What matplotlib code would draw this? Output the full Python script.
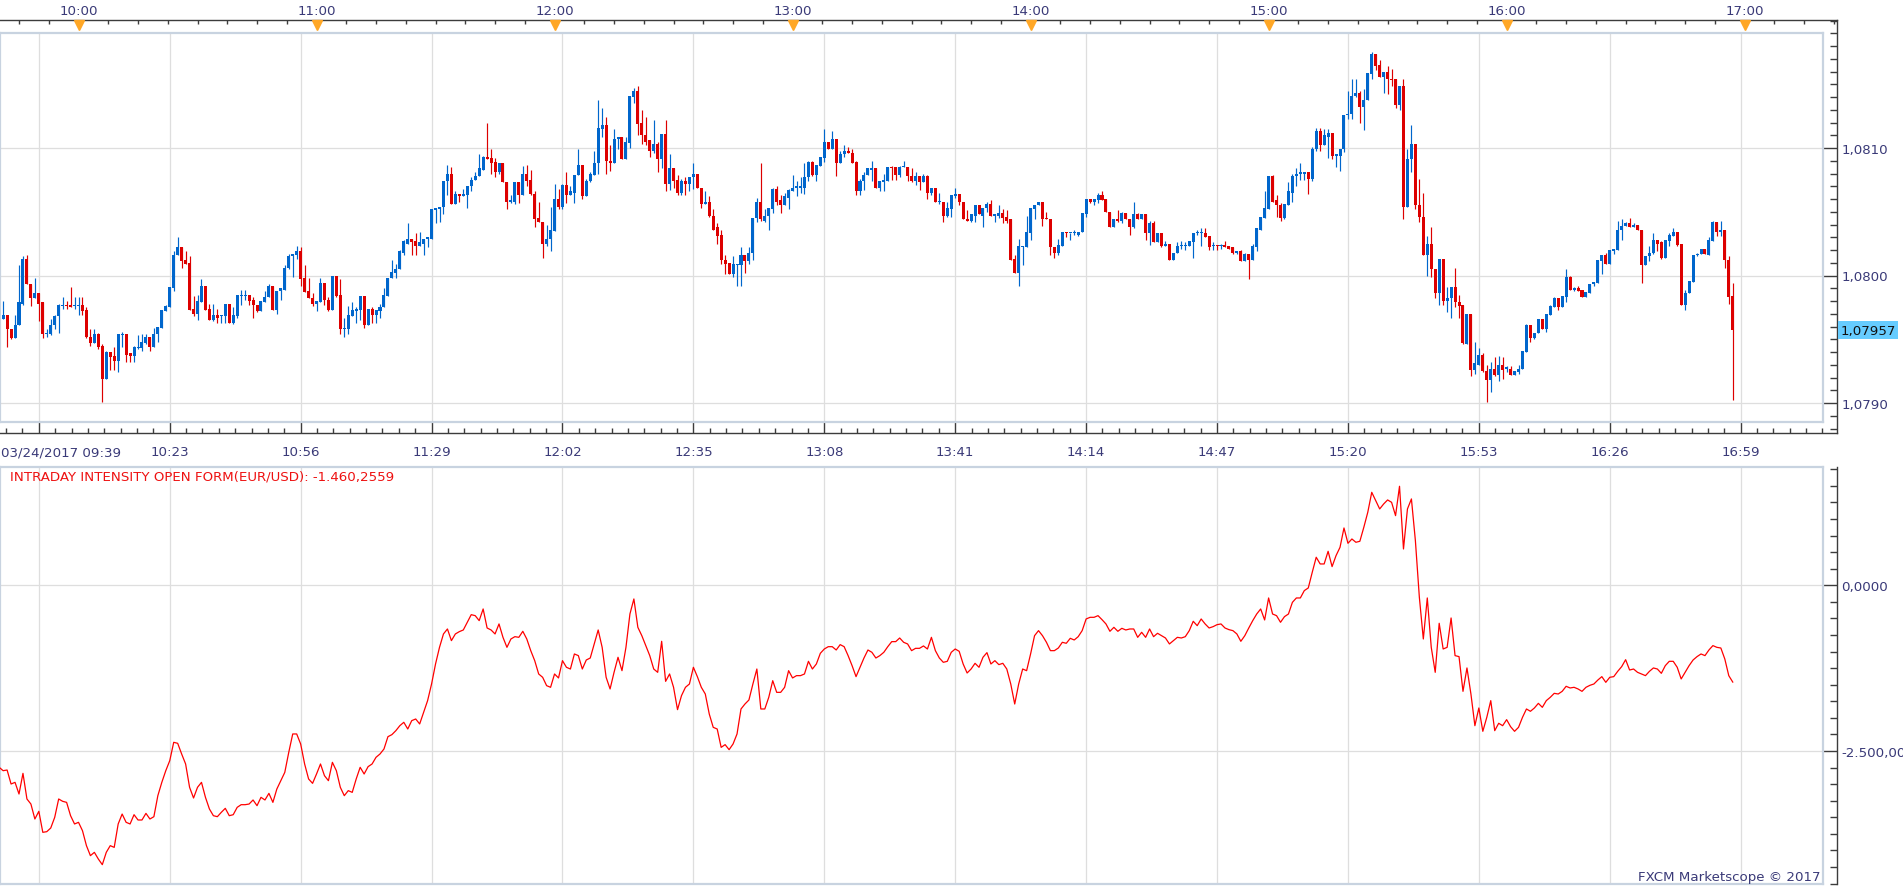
import numpy as np
import matplotlib
matplotlib.use('Agg')
import matplotlib.pyplot as plt
import matplotlib.transforms as mtransforms
from matplotlib.ticker import FixedLocator, MultipleLocator, FuncFormatter, NullFormatter

# EUR/USD 1-minute candles, 03/24/2017, values in points (0.00001) above BASE
BASE = 1.07900
PT = 0.00001
first_bar = 2          # minutes after 09:39 of the first candle

open_pts = [
    66, 69, 58, 51, 61, 78, 113, 93, 82, 86, 79, 54, 54, 61, 68, 76, 77, 77, 76, 76,
    77, 73, 52, 47, 54, 45, 19, 40, 37, 33, 53, 54, 39, 37, 43, 43, 47, 52, 44, 54,
    59, 72, 75, 90, 116, 122, 112, 110, 74, 70, 79, 92, 74, 65, 69, 68, 68, 78, 63, 68,
    84, 84, 85, 81, 77, 72, 79, 83, 92, 73, 88, 89, 106, 115, 116, 119, 98, 88, 82, 78,
    79, 94, 81, 73, 100, 85, 58, 58, 68, 72, 73, 84, 61, 74, 69, 72, 75, 84, 98, 102,
    105, 118, 125, 129, 127, 123, 125, 129, 129, 151, 152, 154, 174, 180, 156, 164, 162, 163, 170, 175,
    178, 183, 193, 192, 189, 181, 188, 173, 158, 158, 173, 163, 180, 175, 164, 145, 142, 125, 129, 135,
    160, 154, 171, 163, 165, 179, 187, 162, 174, 179, 188, 215, 218, 190, 188, 207, 209, 191, 204, 240,
    245, 220, 210, 206, 198, 203, 191, 211, 172, 184, 175, 165, 174, 172, 177, 180, 169, 156, 158, 147,
    138, 132, 112, 110, 101, 108, 108, 116, 111, 118, 145, 158, 143, 147, 152, 168, 159, 155, 161, 166,
    169, 169, 169, 177, 189, 179, 186, 192, 205, 199, 207, 188, 195, 198, 196, 189, 166, 174, 179, 183,
    184, 169, 173, 174, 185, 185, 179, 185, 185, 178, 174, 178, 173, 178, 165, 169, 158, 158, 147, 152,
    162, 164, 158, 144, 143, 147, 155, 147, 153, 156, 147, 147, 149, 146, 144, 113, 102, 122, 122, 133,
    152, 155, 158, 145, 144, 122, 118, 123, 134, 133, 133, 132, 134, 148, 160, 158, 159, 163, 160, 150,
    138, 144, 143, 149, 144, 138, 148, 144, 148, 133, 141, 126, 133, 123, 125, 112, 118, 123, 123, 123,
    126, 133, 133, 133, 131, 123, 124, 123, 124, 123, 122, 118, 119, 111, 117, 112, 122, 136, 145, 152,
    178, 159, 155, 145, 155, 165, 178, 180, 180, 181, 176, 199, 213, 202, 209, 212, 194, 194, 199, 226,
    227, 241, 243, 232, 238, 258, 274, 265, 256, 260, 254, 254, 234, 249, 154, 191, 203, 155, 146, 116,
    125, 105, 86, 113, 80, 82, 91, 79, 77, 46, 70, 26, 30, 38, 25, 18, 27, 22, 30, 27,
    27, 22, 24, 27, 40, 61, 51, 55, 66, 58, 69, 75, 82, 75, 83, 99, 89, 90, 89, 83,
    86, 93, 94, 111, 116, 109, 119, 120, 136, 139, 141, 138, 140, 136, 108, 115, 118, 128, 126, 114,
    127, 131, 134, 125, 77, 86, 95, 116, 117, 121, 116, 127, 142, 134, 136, 112, 84,
]
high_pts = [
    80, 69, 58, 69, 108, 115, 116, 93, 98, 86, 79, 58, 66, 69, 78, 83, 80, 91, 83, 83,
    83, 75, 58, 58, 55, 46, 41, 40, 44, 54, 56, 54, 39, 45, 53, 54, 54, 52, 59, 60,
    73, 77, 91, 119, 130, 122, 119, 115, 84, 85, 97, 92, 78, 78, 74, 69, 78, 78, 75, 85,
    89, 89, 85, 83, 77, 80, 88, 93, 92, 88, 90, 108, 117, 117, 123, 122, 108, 98, 86, 80,
    98, 94, 83, 100, 100, 97, 67, 76, 79, 75, 84, 84, 74, 75, 73, 78, 90, 98, 112, 109,
    120, 128, 141, 129, 133, 134, 129, 130, 152, 153, 154, 174, 187, 185, 166, 164, 168, 170, 177, 181,
    195, 194, 220, 199, 192, 188, 188, 173, 163, 173, 173, 186, 187, 183, 166, 158, 142, 140, 154, 172,
    168, 172, 181, 170, 179, 199, 187, 176, 181, 198, 238, 231, 224, 202, 215, 209, 209, 209, 241, 247,
    249, 230, 224, 206, 222, 205, 211, 222, 195, 184, 179, 176, 177, 177, 188, 180, 169, 166, 162, 152,
    141, 136, 116, 110, 115, 109, 122, 116, 122, 145, 161, 188, 152, 153, 169, 170, 163, 165, 168, 179,
    174, 177, 188, 190, 190, 187, 193, 215, 205, 213, 207, 198, 202, 201, 199, 190, 176, 181, 184, 190,
    184, 174, 180, 185, 186, 185, 186, 190, 185, 184, 181, 178, 180, 179, 169, 169, 165, 158, 158, 163,
    169, 164, 158, 151, 148, 155, 155, 153, 158, 159, 148, 155, 152, 151, 144, 116, 129, 123, 147, 153,
    155, 158, 158, 150, 144, 122, 129, 134, 134, 133, 136, 134, 149, 160, 160, 160, 165, 166, 160, 150,
    144, 151, 150, 149, 144, 158, 149, 148, 148, 143, 143, 133, 133, 127, 125, 118, 126, 127, 126, 127,
    133, 136, 137, 137, 131, 126, 124, 125, 127, 123, 122, 119, 120, 118, 117, 125, 137, 146, 166, 178,
    179, 163, 157, 156, 173, 180, 184, 188, 181, 181, 201, 216, 216, 215, 215, 212, 195, 199, 226, 245,
    254, 254, 245, 246, 259, 275, 274, 269, 260, 264, 262, 254, 249, 254, 199, 218, 203, 176, 165, 131,
    138, 105, 113, 113, 91, 91, 106, 85, 77, 70, 70, 48, 43, 39, 30, 32, 36, 37, 36, 29,
    29, 25, 30, 41, 62, 61, 55, 66, 66, 70, 77, 83, 82, 84, 105, 100, 91, 92, 89, 87,
    93, 95, 112, 116, 118, 120, 121, 143, 144, 142, 145, 141, 140, 136, 115, 123, 133, 128, 127, 128,
    133, 137, 134, 125, 89, 96, 116, 118, 121, 121, 130, 143, 142, 143, 136, 115, 94,
]
low_pts = [
    66, 44, 50, 51, 61, 77, 93, 76, 82, 64, 51, 52, 53, 58, 55, 74, 74, 75, 74, 69,
    69, 51, 45, 47, 42, 1, 19, 26, 26, 24, 44, 32, 32, 32, 42, 41, 46, 41, 44, 48,
    59, 72, 75, 88, 116, 106, 109, 73, 68, 65, 79, 73, 65, 64, 63, 63, 63, 63, 62, 67,
    77, 81, 77, 67, 71, 72, 79, 83, 73, 70, 81, 89, 105, 99, 113, 92, 87, 82, 76, 72,
    79, 77, 72, 73, 83, 54, 52, 54, 68, 63, 65, 59, 61, 63, 63, 67, 75, 84, 98, 98,
    105, 116, 125, 116, 116, 123, 116, 122, 129, 141, 142, 148, 163, 156, 156, 158, 162, 153, 166, 175,
    178, 183, 191, 180, 177, 180, 173, 152, 157, 156, 157, 163, 170, 163, 138, 142, 114, 123, 119, 135,
    152, 152, 157, 163, 157, 179, 160, 162, 173, 179, 180, 209, 180, 182, 188, 199, 191, 191, 200, 235,
    210, 203, 202, 193, 196, 181, 184, 166, 167, 169, 163, 163, 163, 166, 168, 169, 153, 156, 146, 136,
    125, 109, 101, 101, 99, 92, 92, 102, 109, 112, 142, 143, 142, 136, 149, 155, 149, 155, 152, 166,
    162, 165, 164, 174, 178, 174, 186, 189, 199, 199, 178, 188, 193, 196, 188, 163, 163, 167, 179, 174,
    169, 166, 166, 174, 175, 175, 177, 185, 174, 173, 171, 167, 173, 160, 163, 158, 156, 142, 146, 146,
    161, 155, 144, 143, 142, 142, 148, 138, 150, 147, 142, 145, 141, 141, 112, 102, 92, 108, 122, 128,
    144, 155, 139, 144, 116, 114, 116, 123, 130, 128, 132, 131, 134, 146, 157, 155, 157, 159, 150, 138,
    138, 142, 141, 144, 132, 137, 144, 144, 128, 124, 126, 126, 122, 123, 112, 112, 118, 121, 120, 123,
    114, 132, 123, 130, 120, 120, 120, 121, 122, 121, 117, 117, 111, 111, 97, 112, 119, 136, 145, 152,
    158, 146, 143, 144, 155, 158, 170, 175, 175, 164, 174, 198, 198, 202, 192, 191, 185, 182, 197, 223,
    223, 240, 220, 214, 238, 254, 261, 256, 243, 242, 249, 231, 230, 144, 154, 181, 152, 142, 116, 100,
    99, 82, 77, 77, 71, 67, 75, 67, 46, 46, 21, 23, 30, 24, 1, 9, 21, 17, 19, 24,
    22, 22, 23, 27, 40, 48, 50, 55, 58, 56, 69, 75, 73, 75, 79, 89, 88, 88, 83, 83,
    86, 92, 94, 101, 109, 109, 117, 120, 128, 139, 138, 138, 136, 94, 108, 111, 117, 119, 113, 114,
    123, 131, 123, 77, 73, 86, 95, 115, 117, 117, 116, 127, 131, 131, 106, 78, 2,
]
close_pts = [
    69, 58, 51, 61, 79, 113, 93, 82, 86, 78, 54, 55, 61, 68, 77, 77, 76, 75, 76, 77,
    72, 52, 47, 54, 44, 19, 40, 36, 33, 54, 54, 38, 37, 44, 44, 48, 52, 44, 54, 60,
    73, 76, 91, 116, 122, 111, 109, 73, 70, 80, 92, 73, 65, 69, 67, 68, 78, 63, 69, 85,
    85, 85, 80, 77, 72, 80, 83, 92, 73, 88, 90, 106, 115, 117, 119, 97, 87, 82, 78, 80,
    94, 81, 73, 100, 84, 58, 58, 69, 73, 74, 84, 61, 74, 69, 73, 75, 85, 98, 103, 105,
    119, 127, 129, 126, 123, 126, 129, 130, 152, 153, 154, 174, 180, 156, 164, 162, 164, 170, 175, 178,
    184, 193, 191, 188, 181, 188, 173, 158, 159, 173, 163, 180, 174, 164, 144, 142, 125, 129, 136, 160,
    154, 171, 163, 166, 179, 187, 162, 174, 180, 188, 216, 218, 190, 188, 207, 209, 191, 205, 241, 245,
    219, 210, 205, 198, 203, 191, 211, 172, 184, 174, 165, 174, 172, 177, 180, 169, 156, 158, 147, 136,
    131, 112, 109, 101, 109, 109, 116, 111, 118, 145, 158, 144, 147, 153, 168, 158, 155, 162, 167, 169,
    170, 170, 177, 189, 179, 187, 193, 205, 199, 207, 188, 195, 198, 196, 188, 166, 174, 179, 184, 184,
    169, 174, 175, 185, 184, 179, 185, 186, 178, 174, 178, 173, 178, 165, 169, 158, 158, 147, 153, 163,
    164, 158, 144, 143, 148, 155, 148, 153, 156, 147, 148, 149, 145, 143, 112, 102, 123, 123, 134, 153,
    155, 158, 144, 144, 122, 118, 124, 134, 133, 133, 133, 134, 149, 160, 158, 160, 163, 159, 150, 138,
    144, 143, 149, 144, 138, 148, 144, 148, 133, 141, 126, 133, 123, 125, 112, 118, 123, 124, 124, 127,
    133, 133, 133, 130, 122, 124, 123, 124, 122, 121, 118, 119, 111, 117, 112, 123, 137, 146, 153, 178,
    158, 155, 145, 156, 166, 178, 180, 181, 181, 176, 199, 213, 202, 210, 212, 194, 195, 199, 226, 227,
    241, 243, 232, 238, 259, 274, 264, 256, 260, 254, 253, 234, 249, 154, 191, 203, 155, 146, 116, 125,
    105, 86, 113, 80, 82, 91, 79, 76, 47, 70, 26, 31, 38, 25, 18, 27, 22, 30, 26, 28,
    22, 25, 27, 41, 61, 51, 55, 66, 58, 70, 76, 82, 75, 84, 99, 89, 90, 88, 83, 87,
    93, 95, 112, 116, 109, 120, 121, 136, 139, 141, 138, 140, 136, 108, 115, 118, 128, 125, 114, 128,
    132, 134, 124, 77, 86, 96, 116, 117, 121, 117, 128, 142, 134, 136, 112, 83, 57,
]

# Intraday Intensity (open form), one value per minute starting at 09:40
ii_first = 1
ii_values = [
    -2746, -2797, -2787, -2998, -2973, -3149, -2837, -3224, -3300, -3526,
    -3410, -3727, -3717, -3662, -3501, -3224, -3259, -3275, -3476, -3601,
    -3576, -3702, -3928, -4079, -4029, -4130, -4215, -4029, -3928, -3954,
    -3601, -3451, -3576, -3601, -3461, -3541, -3541, -3441, -3526, -3491,
    -3174, -2973, -2797, -2646, -2369, -2384, -2545, -2696, -3048, -3209,
    -3048, -2973, -3199, -3375, -3476, -3491, -3425, -3365, -3476, -3461,
    -3350, -3310, -3310, -3300, -3239, -3325, -3199, -3239, -3139, -3275,
    -3073, -2948, -2822, -2520, -2243, -2243, -2394, -2696, -2922, -2988,
    -2847, -2696, -2872, -2948, -2671, -2797, -3048, -3174, -3098, -3124,
    -2922, -2746, -2847, -2736, -2696, -2595, -2545, -2470, -2284, -2253,
    -2193, -2118, -2067, -2168, -2042, -2017, -2092, -1916, -1740, -1489,
    -1187, -936, -734, -659, -835, -734, -699, -674, -558, -443,
    -458, -533, -357, -644, -674, -734, -583, -785, -936, -810,
    -775, -785, -694, -810, -986, -1137, -1338, -1388, -1514, -1539,
    -1338, -1398, -1137, -1237, -1263, -1036, -1061, -1263, -1127, -1097,
    -885, -674, -936, -1388, -1564, -1313, -1086, -1288, -936, -433,
    -206, -634, -760, -910, -1061, -1263, -1313, -845, -1449, -1338,
    -1539, -1876, -1665, -1539, -1489, -1237, -1378, -1539, -1640, -1942,
    -2143, -2168, -2445, -2404, -2480, -2394, -2243, -1866, -1791, -1730,
    -1489, -1263, -1866, -1866, -1690, -1439, -1615, -1615, -1539, -1288,
    -1398, -1363, -1363, -1338, -1147, -1263, -1187, -1026, -961, -926,
    -926, -976, -895, -926, -1061, -1212, -1378, -1237, -1097, -976,
    -1011, -1097, -1061, -1011, -926, -850, -850, -795, -860, -885,
    -986, -951, -951, -915, -961, -785, -986, -1097, -1162, -1147,
    -1011, -961, -996, -1187, -1323, -1263, -1177, -1237, -1086, -1016,
    -1187, -1137, -1197, -1177, -1263, -1489, -1791, -1489, -1263, -1288,
    -1036, -760, -684, -760, -860, -986, -986, -946, -860, -875,
    -800, -825, -775, -684, -508, -483, -483, -458, -518, -583,
    -694, -634, -694, -649, -674, -659, -659, -785, -709, -785,
    -659, -775, -724, -760, -795, -885, -835, -785, -795, -775,
    -684, -543, -609, -508, -583, -644, -624, -594, -583, -644,
    -669, -684, -734, -845, -760, -644, -533, -433, -357, -523,
    -191, -433, -458, -558, -473, -433, -257, -191, -191, -80,
    -40, 196, 423, 322, 322, 513, 282, 448, 573, 865,
    634, 699, 649, 664, 875, 1102, 1403, 1278, 1152, 1227,
    1288, 1252, 1051, 1494, 548, 1152, 1303, 674, -181, -810,
    -191, -936, -1313, -573, -961, -936, -493, -1061, -1076, -1600,
    -1247, -1640, -2118, -1851, -2203, -1992, -1740, -2193, -2082, -2118,
    -2027, -2133, -2203, -2143, -1992, -1866, -1901, -1851, -1781, -1841,
    -1740, -1690, -1630, -1640, -1600, -1524, -1549, -1539, -1564, -1600,
    -1539, -1509, -1489, -1429, -1378, -1464, -1388, -1378, -1298, -1227,
    -1122, -1278, -1263, -1313, -1338, -1363, -1298, -1247, -1263, -1328,
    -1212, -1147, -1147, -1237, -1413, -1313, -1212, -1127, -1076, -1036,
    -1061, -976, -910, -936, -946, -1112, -1363, -1460,
]

grid_minutes = [11 + 33 * k for k in range(14)]
grid_labels = ['03/24/2017 09:39', '10:23', '10:56', '11:29', '12:02', '12:35', '13:08',
               '13:41', '14:14', '14:47', '15:20', '15:53', '16:26', '16:59']
hour_minutes = [21 + 60 * k for k in range(8)]
hour_labels = ['10:00', '11:00', '12:00', '13:00', '14:00', '15:00', '16:00', '17:00']
last_price = 1.07957
ii_title = 'INTRADAY INTENSITY OPEN FORM(EUR/USD): -1.460,2559'

# ---------------------------------------------------------------------------
W, H = 1903, 887
PX_MIN = 3.967
PX_ZERO = -4.8
BLUE = '#0066cc'
RED = '#dd0000'
TXT = '#3a3a78'
AXC = '#3c3c3c'
FRAME = '#c8d3e0'
GRID = '#dedede'
FS = 9.6
plt.rcParams['font.family'] = ['DejaVu Sans']


def px_box(x0, y0, x1, y1):
    return [x0 / W, 1 - y1 / H, (x1 - x0) / W, (y1 - y0) / H]


def minute_at(px):
    return (px - PX_ZERO) / PX_MIN


def price_at(py):
    return 1.0800 - (py - 276.5) / 127500


def ii_at(py):
    return -(py - 586.3) / 165.7 * 2500


def price_fmt(v, pos):
    return ('%.4f' % v).replace('.', ',')


def ii_fmt(v, pos):
    if abs(v) < 1e-9:
        v = 0.0
    s = '{:,.4f}'.format(v)
    s = s.replace(',', 'X').replace('.', ',').replace('X', '.')
    # the panel edge only leaves room for the first nine characters
    return s[:9]


fig = plt.figure(figsize=(W / 100, H / 100), dpi=100)

#------------------------------------------------------------------------------
# Price panel: outer axis lines
#------------------------------------------------------------------------------
axo = fig.add_axes(px_box(0, 21.3, 1837, 434))
axo.patch.set_visible(False)
axo.set_xlim(minute_at(0), minute_at(1837))
axo.set_ylim(price_at(434), price_at(21.3))
axo.spines['left'].set_visible(False)
axo.spines['top'].set_visible(False)
for s in ('bottom', 'right'):
    axo.spines[s].set_color(AXC)
    axo.spines[s].set_linewidth(1.0)

axo.xaxis.set_ticks_position('bottom')
axo.xaxis.set_major_locator(FixedLocator(grid_minutes))
axo.xaxis.set_major_formatter(FuncFormatter(
    lambda v, pos: '' if pos in (None, 0) else grid_labels[pos]))
axo.xaxis.set_minor_locator(FixedLocator(np.arange(11 - 33 / 8 * 2, 466, 33 / 8)))
axo.tick_params(axis='x', which='major', direction='in', length=8, width=1, color=AXC,
                labelsize=FS, labelcolor=TXT, pad=8.3)
axo.tick_params(axis='x', which='minor', direction='in', length=3.4, width=1, color=AXC)

axo.yaxis.set_ticks_position('right')
axo.yaxis.set_major_locator(FixedLocator([1.0790, 1.0800, 1.0810]))
axo.yaxis.set_minor_locator(MultipleLocator(0.0001))
axo.yaxis.set_major_formatter(FuncFormatter(price_fmt))
axo.tick_params(axis='y', which='major', direction='in', length=10.3, width=1, color=AXC,
                labelsize=FS, labelcolor=TXT, pad=3)
axo.tick_params(axis='y', which='minor', direction='in', length=5.2, width=1, color=AXC)

top = axo.secondary_xaxis('top')
top.spines['top'].set_color(AXC)
top.spines['top'].set_linewidth(1.0)
top.xaxis.set_major_locator(FixedLocator(hour_minutes))
top.xaxis.set_major_formatter(FuncFormatter(lambda v, pos: hour_labels[pos]))
top.xaxis.set_minor_locator(FixedLocator(np.arange(6, 466, 7.5)))
top.tick_params(axis='x', which='major', direction='in', length=0, labelsize=FS,
                labelcolor=TXT, pad=2.6)
top.tick_params(axis='x', which='minor', direction='in', length=3, width=1, color=AXC)

axo.plot(hour_minutes, [price_at(25.8)] * len(hour_minutes), linestyle='none',
         marker='v', markersize=6.8, color='#ffa726', clip_on=False, zorder=6)

tr = mtransforms.blended_transform_factory(axo.transAxes, axo.transData)
axo.annotate(('%.5f' % last_price).replace('.', ','),
             xy=(1.0, last_price), xycoords=tr, xytext=(2.4, 0), textcoords='offset points',
             ha='left', va='center', fontsize=FS, color='#111111',
             bbox=dict(boxstyle='square,pad=0.18', fc='#66ccff', ec='none'))

fig.text(1 / W, 1 - 452.7 / H, grid_labels[0], ha='left', va='center', fontsize=FS, color=TXT)

#------------------------------------------------------------------------------
# Price panel: candles
#------------------------------------------------------------------------------
ax = fig.add_axes(px_box(0, 34, 1822.7, 423))
ax.set_zorder(2)
ax.set_facecolor('white')
ax.set_xlim(minute_at(0), minute_at(1822.7))
ax.set_ylim(price_at(423), price_at(34))
for s in ax.spines.values():
    s.set_color(FRAME)
    s.set_linewidth(1.6)
ax.set_xticks(grid_minutes)
ax.set_yticks([1.0790, 1.0800, 1.0810])
ax.tick_params(length=0, labelbottom=False, labelleft=False)
ax.grid(True, color=GRID, linewidth=0.9, zorder=0)
ax.set_axisbelow(True)

n = min(len(open_pts), len(high_pts), len(low_pts), len(close_pts))
o = BASE + np.array(open_pts[:n]) * PT
c = BASE + np.array(close_pts[:n]) * PT
hi = np.maximum(BASE + np.array(high_pts[:n]) * PT, np.maximum(o, c))
lo = np.minimum(BASE + np.array(low_pts[:n]) * PT, np.minimum(o, c))
x = np.arange(first_bar, first_bar + n)
colors = np.where(c >= o, BLUE, RED)

ax.vlines(x, lo, hi, colors=colors, linewidth=0.85, zorder=2)
ax.bar(x, np.maximum(np.abs(c - o), 0.8 * PT), bottom=np.minimum(o, c), width=0.76,
       color=colors, linewidth=0, zorder=3)

#------------------------------------------------------------------------------
# Intraday intensity panel
#------------------------------------------------------------------------------
axo2 = fig.add_axes(px_box(0, 468, 1837, 885))
axo2.patch.set_visible(False)
axo2.set_xlim(minute_at(0), minute_at(1837))
axo2.set_ylim(ii_at(885), ii_at(468))
for s in ('left', 'top', 'bottom'):
    axo2.spines[s].set_visible(False)
axo2.spines['right'].set_color(AXC)
axo2.spines['right'].set_linewidth(1.0)
axo2.set_xticks([])
axo2.yaxis.set_ticks_position('right')
axo2.yaxis.set_major_locator(MultipleLocator(2500))
axo2.yaxis.set_minor_locator(MultipleLocator(250))
axo2.yaxis.set_major_formatter(FuncFormatter(ii_fmt))
axo2.yaxis.set_minor_formatter(NullFormatter())
axo2.tick_params(axis='y', which='major', direction='in', length=10.3, width=1, color=AXC,
                 labelsize=FS, labelcolor=TXT, pad=3)
axo2.tick_params(axis='y', which='minor', direction='in', length=5.2, width=1, color=AXC)

ax2 = fig.add_axes(px_box(0, 468, 1822.7, 885))
ax2.set_zorder(2)
ax2.set_facecolor('white')
ax2.set_xlim(minute_at(0), minute_at(1822.7))
ax2.set_ylim(ii_at(885), ii_at(468))
for s in ax2.spines.values():
    s.set_color(FRAME)
    s.set_linewidth(1.6)
ax2.set_xticks(grid_minutes)
ax2.set_yticks([-2500, 0])
ax2.tick_params(length=0, labelbottom=False, labelleft=False)
ax2.grid(True, color=GRID, linewidth=0.9, zorder=0)
ax2.set_axisbelow(True)

ii_x = np.arange(ii_first, ii_first + len(ii_values))
ax2.plot(ii_x, ii_values, color='#ff0000', linewidth=0.9, zorder=3)

fig.text(10 / W, 1 - 476.7 / H, ii_title, ha='left', va='center', fontsize=FS, color='#ee1111')
fig.text(1820 / W, 1 - 877.7 / H, 'FXCM Marketscope \u00a9 2017', ha='right', va='center',
         fontsize=FS, color=TXT)

fig.savefig('out.png', dpi=100)
